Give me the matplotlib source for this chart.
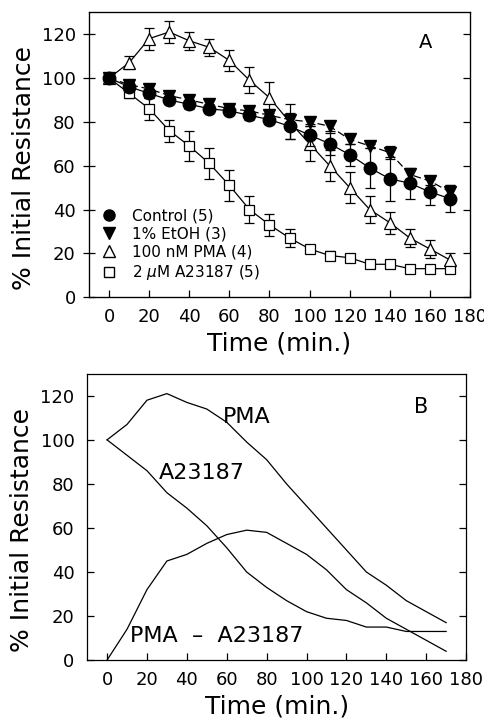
import numpy as np
import matplotlib.pyplot as plt
from matplotlib.lines import Line2D

plt.rcParams['font.family'] = 'DejaVu Sans'

time = [0, 10, 20, 30, 40, 50, 60, 70, 80, 90, 100, 110, 120, 130, 140, 150, 160, 170]

control = [100, 96, 93, 90, 88, 86, 85, 83, 81, 78, 74, 70, 65, 59, 54, 52, 48, 45]
control_err = [1, 2, 2, 2, 2, 2, 2, 2, 2, 6, 5, 5, 5, 9, 10, 7, 6, 6]

etoh = [100, 97, 95, 92, 90, 88, 86, 85, 83, 81, 80, 78, 72, 69, 66, 56, 53, 48]
etoh_err = [1, 2, 2, 2, 2, 2, 2, 2, 2, 2, 2, 2, 2, 1, 3, 2, 2, 3]

pma = [100, 107, 118, 121, 117, 114, 108, 99, 91, 80, 70, 60, 50, 40, 34, 27, 22, 17]
pma_err = [1, 3, 5, 5, 4, 4, 5, 6, 7, 8, 8, 7, 7, 6, 5, 4, 4, 3]

a23187 = [100, 93, 86, 76, 69, 61, 51, 40, 33, 27, 22, 19, 18, 15, 15, 13, 13, 13]
a23187_err = [1, 2, 5, 5, 7, 7, 7, 6, 5, 4, 2, 2, 1, 1, 1, 1, 1, 1]

pma_minus_a = [0, 14, 32, 45, 48, 53, 57, 59, 58, 53, 48, 41, 32, 26, 19, 14, 9, 4]

labels = ['Control (5)', '1% EtOH (3)', '100 nM PMA (4)', r'2 $\mu$M A23187 (5)']

fig = plt.figure(figsize=(4.84, 7.23), dpi=100)
axA = fig.add_axes([0.184, 0.589, 0.787, 0.394])
axB = fig.add_axes([0.180, 0.087, 0.783, 0.396])

lw = 0.9
common = dict(color='black', lw=lw, elinewidth=lw, capsize=3.5, capthick=lw)
axA.errorbar(time, a23187, yerr=a23187_err, marker='s', ms=7.5, mfc='white',
             mec='black', mew=0.9, zorder=3, **common)
axA.errorbar(time, pma, yerr=pma_err, marker='^', ms=9, mfc='white',
             mec='black', mew=0.9, zorder=3, **common)
axA.errorbar(time, etoh, yerr=etoh_err, marker='v', ms=9, mfc='black',
             mec='black', ls=(0, (6, 3)), zorder=4, **common)
axA.errorbar(time, control, yerr=control_err, marker='o', ms=9, mfc='black',
             mec='black', zorder=5, **common)

handles = [Line2D([], [], color='black', marker='o', ms=8, ls='none'),
           Line2D([], [], color='black', marker='v', ms=8, ls='none'),
           Line2D([], [], color='black', marker='^', ms=8, mfc='white', ls='none'),
           Line2D([], [], color='black', marker='s', ms=7, mfc='white', ls='none')]
axA.legend(handles, labels, loc='lower left', bbox_to_anchor=(0.0, 0.015),
           frameon=False, fontsize=11, handlelength=1.2, handletextpad=0.9,
           labelspacing=0.22, borderaxespad=0.3)

axA.text(158, 116, 'A', fontsize=14, ha='center', va='center')

axB.plot(time, pma, color='black', lw=lw)
axB.plot(time, a23187, color='black', lw=lw)
axB.plot(time, pma_minus_a, color='black', lw=lw)
axB.text(58, 110.5, 'PMA', fontsize=16, ha='left', va='center')
axB.text(26, 85, 'A23187', fontsize=16, ha='left', va='center')
axB.text(11.5, 11, 'PMA  \u2013  A23187', fontsize=16, ha='left', va='center')
axB.text(157.5, 115, 'B', fontsize=15, ha='center', va='center')

for ax in (axA, axB):
    ax.set_xlim(-10, 180)
    ax.set_ylim(0, 130)
    ax.set_xticks(range(0, 181, 20))
    ax.set_yticks(range(0, 121, 20))
    ax.tick_params(axis='x', direction='in', length=5, labelsize=13, pad=8, width=0.9)
    ax.tick_params(axis='y', direction='in', length=5, labelsize=13, pad=9,
                   right=True, width=0.9)
    ax.set_xlabel('Time (min.)', fontsize=18, labelpad=4)
    ax.set_ylabel('% Initial Resistance', fontsize=18)
    ax.yaxis.set_label_coords(-0.14, 0.455)
    for s in ax.spines.values():
        s.set_linewidth(0.9)

# panel A: left ticks cross the axis, right ticks point inward
axA.tick_params(axis='y', direction='inout', length=9, right=False, pad=5)
axA_r = axA.twinx()
axA_r.set_ylim(axA.get_ylim())
axA_r.set_yticks(range(0, 121, 20))
axA_r.tick_params(axis='y', direction='in', length=5, width=0.9, labelright=False)

fig.savefig('out.png', dpi=100)
